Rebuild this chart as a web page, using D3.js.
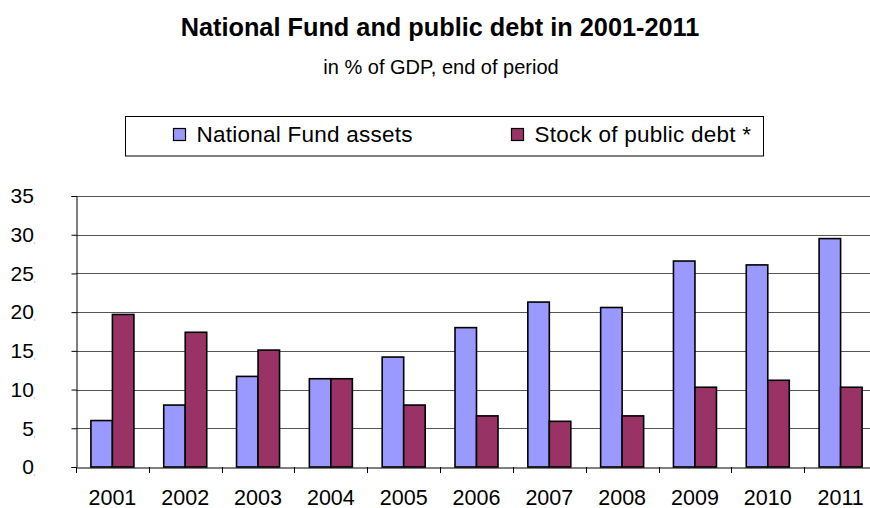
<!DOCTYPE html>
<html>
<head>
<meta charset="utf-8">
<script src="https://cdn.jsdelivr.net/npm/d3@7"></script>
<style>
  body { margin: 0; background: #fff; }
  svg { display: block; font-family: "Liberation Sans", Arial, sans-serif; }
</style>
</head>
<body>
<svg id="chart" width="870" height="508"></svg>
<script>
// data
const years = ['2001', '2002', '2003', '2004', '2005', '2006', '2007', '2008', '2009', '2010', '2011'];
const fundAssets = [6.0, 8.0, 11.7, 11.4, 14.2, 18.0, 21.3, 20.6, 26.6, 26.1, 29.5];
const publicDebt = [19.7, 17.4, 15.1, 11.4, 8.0, 6.6, 5.9, 6.6, 10.3, 11.2, 10.3];
const seriesNames = ['National Fund assets', 'Stock of public debt *'];
const seriesColors = ['#9999ff', '#993366'];
const yTicks = [0, 5, 10, 15, 20, 25, 30, 35];

const FONT = '"Liberation Sans", Arial, sans-serif';
const svg = d3.select('#chart');

const plotLeft = 76, plotRight = 877, plotTop = 196, plotBottom = 467;

const x = d3.scaleBand()
    .domain(years)
    .range([plotLeft, plotRight])
    .paddingInner(0)
    .paddingOuter(0);

const y = d3.scaleLinear()
    .domain([0, 35])
    .range([plotBottom, plotTop]);

const barW = 21.5;

// title
svg.append('text')
    .attr('x', 440).attr('y', 36)
    .attr('text-anchor', 'middle')
    .attr('font-size', '25.3px')
    .attr('font-weight', 'bold')
    .text('National Fund and public debt in 2001-2011');

svg.append('text')
    .attr('x', 441).attr('y', 74)
    .attr('text-anchor', 'middle')
    .attr('font-size', '20px')
    .text('in % of GDP, end of period');

// legend
const legend = svg.append('g');
legend.append('rect')
    .attr('x', 125.5).attr('y', 116.5)
    .attr('width', 638).attr('height', 39.5)
    .attr('fill', '#fff')
    .attr('stroke', '#000')
    .attr('stroke-width', 1);

const legendX = [173, 511];
seriesNames.forEach((name, i) => {
    legend.append('rect')
        .attr('x', legendX[i] + 0.5).attr('y', 128.5)
        .attr('width', 12).attr('height', 12)
        .attr('fill', seriesColors[i])
        .attr('stroke', '#000')
        .attr('stroke-width', 1.2);
    legend.append('text')
        .attr('x', legendX[i] + 23.5).attr('y', 141.5)
        .attr('font-size', '22.5px')
        .attr('letter-spacing', '0.25px')
        .text(name);
});

// gridlines
svg.append('g')
    .selectAll('line')
    .data(yTicks.slice(1))
    .join('line')
    .attr('x1', plotLeft).attr('x2', plotRight)
    .attr('y1', d => Math.round(y(d)) + 0.5)
    .attr('y2', d => Math.round(y(d)) + 0.5)
    .attr('stroke', '#555')
    .attr('stroke-width', 1.2);

// y axis
const yAxis = svg.append('g')
    .attr('transform', `translate(${plotLeft + 0.5},0)`)
    .call(d3.axisLeft(y).tickValues(yTicks).tickSize(5).tickFormat(d3.format('d')))
    .attr('font-family', FONT);
yAxis.select('.domain').attr('stroke', '#000');
yAxis.selectAll('.tick text')
    .attr('font-size', '21px')
    .attr('fill', '#000')
    .attr('text-anchor', 'end')
    .attr('x', -41)
    .attr('dy', '0.32em');
yAxis.selectAll('.tick text').append('tspan')
    .attr('font-size', '6px')
    .attr('dy', '1')
    .text(',');

// bars
const groups = svg.append('g')
    .selectAll('g')
    .data(years)
    .join('g')
    .attr('transform', d => `translate(${x(d) + x.bandwidth() / 2},0)`);

groups.append('rect')
    .attr('x', -barW)
    .attr('y', (d, i) => y(fundAssets[i]))
    .attr('width', barW)
    .attr('height', (d, i) => y(0) - y(fundAssets[i]))
    .attr('fill', seriesColors[0])
    .attr('stroke', '#000')
    .attr('stroke-width', 1.6);

groups.append('rect')
    .attr('x', 0)
    .attr('y', (d, i) => y(publicDebt[i]))
    .attr('width', barW)
    .attr('height', (d, i) => y(0) - y(publicDebt[i]))
    .attr('fill', seriesColors[1])
    .attr('stroke', '#000')
    .attr('stroke-width', 1.6);

// x axis
const xAxis = svg.append('g')
    .attr('transform', `translate(0,${plotBottom + 0.5})`)
    .call(d3.axisBottom(x).tickSize(0))
    .attr('font-family', FONT);
xAxis.select('.domain').attr('stroke', '#000');
xAxis.selectAll('.tick text')
    .attr('font-size', '21.5px')
    .attr('fill', '#000')
    .attr('y', 37)
    .attr('dy', '0');

// category separators
svg.append('g')
    .selectAll('line')
    .data(years)
    .join('line')
    .attr('x1', d => Math.round(x(d)) + 0.5)
    .attr('x2', d => Math.round(x(d)) + 0.5)
    .attr('y1', plotBottom)
    .attr('y2', plotBottom + 6)
    .attr('stroke', '#000');
</script>
</body>
</html>
